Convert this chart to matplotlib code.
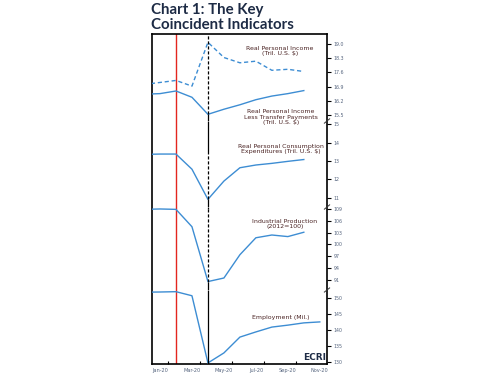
import matplotlib.pyplot as plt
import numpy as np

# months: Dec-19 .. Nov-20 -> x index -1 .. 10
month_idx = np.arange(-1, 11)
tick_months = [0, 2, 4, 6, 8, 10]
tick_labels = ['Jan-20', 'Mar-20', 'May-20', 'Jul-20', 'Sep-20', 'Nov-20']

# Dec-19 .. Oct-20
real_income = [17.0, 17.1, 17.2, 16.92, 19.08, 18.33, 18.07, 18.15, 17.7, 17.75, 17.64]
income_ex_transfers = [16.52, 16.55, 16.68, 16.37, 15.53, 15.78, 16.0, 16.25, 16.43, 16.55, 16.7]
pce = [13.36, 13.38, 13.38, 12.55, 10.9, 11.9, 12.63, 12.78, 12.87, 12.98, 13.08]
ind_prod = [108.9, 109.0, 108.9, 104.5, 90.6, 91.5, 97.4, 101.7, 102.4, 102.0, 103.1]
# Dec-19 .. Nov-20
employment = [151.7, 151.76, 151.86, 150.6, 129.8, 132.9, 137.8, 139.4, 140.9, 141.5, 142.2, 142.5]

income_ticks = [15.5, 16.2, 16.9, 17.6, 18.3, 19.0]
pce_ticks = [11, 12, 13, 14, 15]
ip_ticks = [91, 94, 97, 100, 103, 106, 109]
emp_ticks = [130, 135, 140, 145, 150]

peak_month = 1    # Feb-20
trough_month = 3  # Apr-20

LINE = '#3d8dd3'
TXT = '#4a2323'
TICK = '#56657f'
NAVY = '#1d2b45'

W, H = 495, 375
fig = plt.figure(figsize=(4.95, 3.75), dpi=100)


def px_box(x0, y0, x1, y1):
    return [x0 / W, 1 - y1 / H, (x1 - x0) / W, (y1 - y0) / H]


xlim = (-0.5, 10.45)

# frame axes
frame = fig.add_axes(px_box(152, 34, 327, 364))
frame.set_xlim(*xlim)
frame.set_ylim(0, 1)
frame.set_yticks([])
frame.set_xticks(tick_months)
frame.set_xticklabels(tick_labels)
frame.set_xticks(np.arange(0.5, 10.5, 2), minor=True)
frame.tick_params(axis='x', which='major', length=0, labelsize=3.6, colors=TICK, pad=3)
frame.tick_params(axis='x', which='minor', length=2.5, direction='in', color='black', width=0.8)
for s in frame.spines.values():
    s.set_linewidth(1.2)
frame.patch.set_alpha(0)
frame.axvline(peak_month, color='#e3261f', lw=1.0, zorder=1)

panels = [
    (34, 121, (15.2, 19.49), income_ticks, '{:.1f}'),
    (121, 207, (10.48, 15.19), pce_ticks, '{:d}'),
    (207, 290, (88.46, 109.5), ip_ticks, '{:d}'),
    (290, 364, (129.47, 152.38), emp_ticks, '{:d}'),
]

axes = []
for top, bot, ylim, ticks, fmt in panels:
    ax = fig.add_axes(px_box(152, top, 327, bot))
    ax.set_xlim(*xlim)
    ax.set_ylim(*ylim)
    ax.patch.set_alpha(0)
    for s in ax.spines.values():
        s.set_visible(False)
    ax.set_xticks([])
    ax.yaxis.tick_right()
    ax.set_yticks(ticks)
    ax.set_yticklabels([fmt.format(t) for t in ticks])
    ax.tick_params(axis='y', length=3, width=0.8, colors=TICK, labelsize=3.4, pad=2)
    ax.tick_params(axis='y', color='black')
    axes.append(ax)

ax1, ax2, ax3, ax4 = axes

ax1.plot(month_idx[:11], real_income, color=LINE, lw=1.0, ls=(0, (3, 2)))
ax1.plot(month_idx[:11], income_ex_transfers, color=LINE, lw=1.0)
ax2.plot(month_idx[:11], pce, color=LINE, lw=1.0)
ax3.plot(month_idx[:11], ind_prod, color=LINE, lw=1.0)
ax4.plot(month_idx, employment, color=LINE, lw=1.0)

# trough reference line, dashed where the series falls peak->trough
apr = trough_month + 1
feb = peak_month + 1
lo, hi = ax1.get_ylim()
ax1.vlines(trough_month, lo, income_ex_transfers[apr], color='black', lw=0.9)
ax1.vlines(trough_month, income_ex_transfers[apr], hi, color='black', lw=0.9, linestyles=(0, (2.5, 1.5)))
for ax, vals in [(ax2, pce), (ax3, ind_prod)]:
    lo, hi = ax.get_ylim()
    ax.vlines(trough_month, lo, vals[apr], color='black', lw=0.9)
    ax.vlines(trough_month, vals[apr], vals[feb], color='black', lw=0.9, linestyles=(0, (2.5, 1.5)))
    ax.vlines(trough_month, vals[feb], hi, color='black', lw=0.9)
lo, hi = ax4.get_ylim()
ax4.vlines(trough_month, lo, hi, color='black', lw=0.9)

# axis break marks on the right spine
for ax in [ax1, ax2, ax3]:
    ax.plot([0.985, 1.015], [-0.025, 0.025], transform=ax.transAxes,
            color='#333333', lw=0.7, clip_on=False)

# series labels
def label(x, y, s):
    fig.text(x / W, 1 - y / H, s, ha='center', va='center', fontsize=4.5,
             color=TXT, linespacing=1.2)

label(280, 51, 'Real Personal Income\n(Tril. U.S. $)')
label(281, 117, 'Real Personal Income\nLess Transfer Payments\n(Tril. U.S. $)')
label(281, 149, 'Real Personal Consumption\nExpenditures (Tril. U.S. $)')
label(285, 224, 'Industrial Production\n(2012=100)')
label(281, 318, 'Employment (Mil.)')

fig.text(326 / W, 1 - 357 / H, 'ECRI', ha='right', va='center', fontsize=6.5,
         fontweight='bold', color=NAVY)

fig.text(151 / W, 1 - 3 / H, 'Chart 1: The Key\nCoincident Indicators', ha='left', va='top',
         fontsize=10.8, fontweight='bold', color=NAVY, family='Lato', linespacing=1.05)

fig.savefig('out.png', dpi=100)
